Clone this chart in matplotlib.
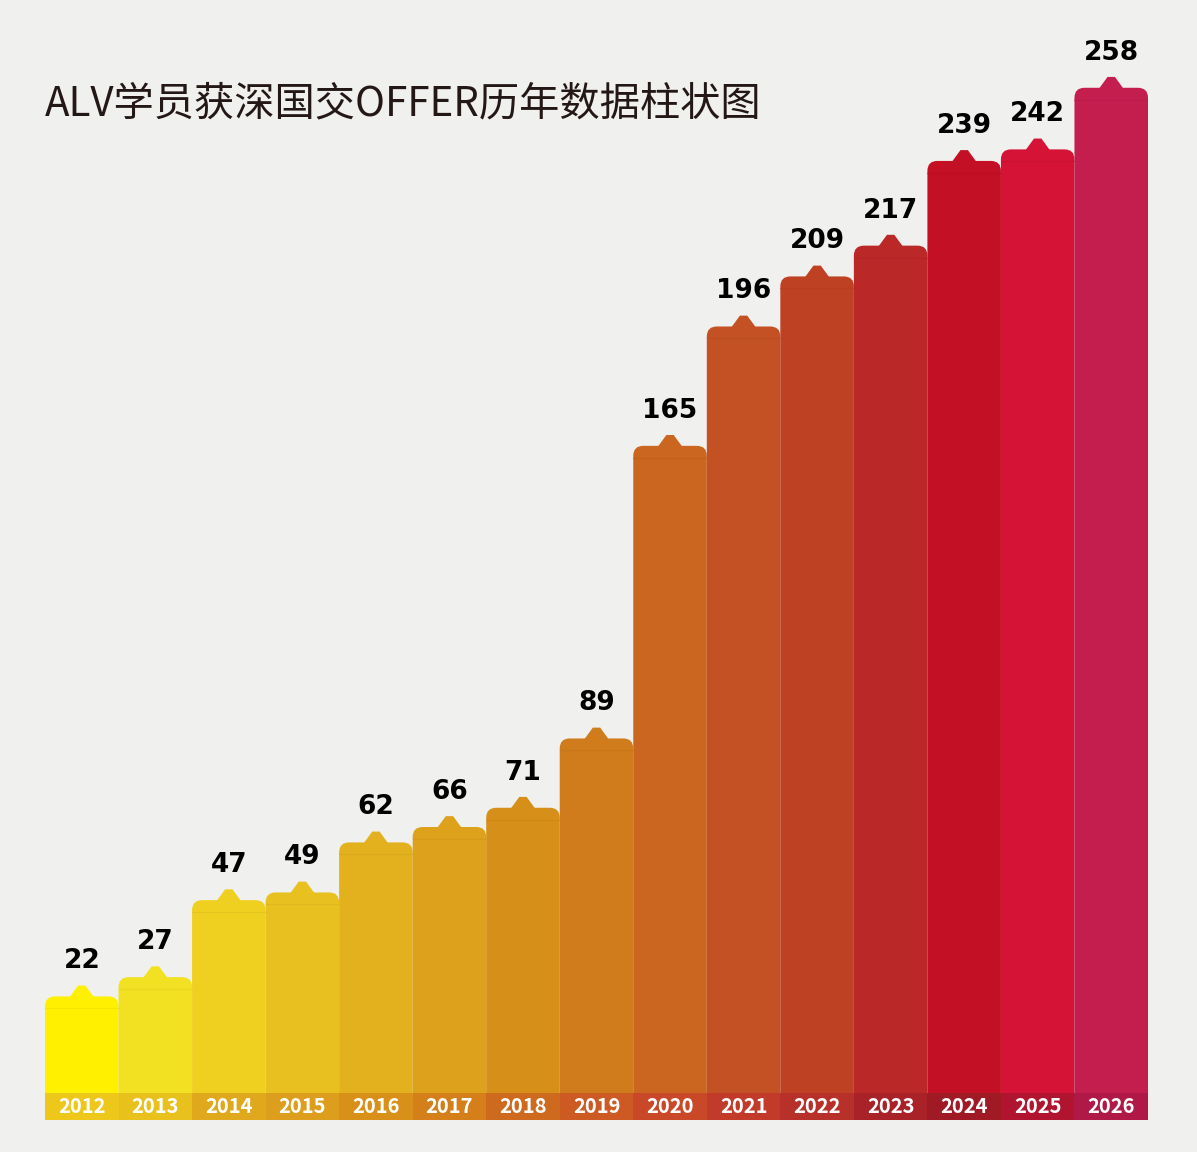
import matplotlib
matplotlib.use("Agg")
import matplotlib.pyplot as plt
from matplotlib.patches import FancyBboxPatch, Polygon, Rectangle
import matplotlib.colors as mc

years = ["2012","2013","2014","2015","2016","2017","2018","2019","2020","2021","2022","2023","2024","2025","2026"]
values = [22,27,47,49,62,66,71,89,165,196,209,217,239,242,258]
colors = ["#FFF000","#F2E122","#EFD020","#E8C020","#E3B11E","#DDA11C","#D6901A","#D07C1C","#CA661F",
          "#C45124","#BF4124","#BB2828","#C41024","#D41336","#C41E4E"]
strip_colors = ["#EDC81A","#E9C11C","#E0A81C","#DC9E1C","#D89018","#D47F1A","#CE6A1E","#CC5A22","#C84828",
                "#C23A2A","#B8302A","#A82228","#A01A26","#B0142E","#B01848"]

BG = "#F0F0EE"
fig = plt.figure(figsize=(11.97, 11.52), dpi=100, facecolor=BG)
ax = fig.add_axes([45/1197, 32/1152, 1103/1197, 1120/1152])
ax.set_facecolor(BG)
n = len(values)
ax.set_xlim(0, n)
ax.set_ylim(-10.1, 280.8)
ax.axis("off")

px_x = 1103/n       # pixels per x unit
px_y = 1120/290.9   # pixels per y unit
r_px = 10
for i, (v, c) in enumerate(zip(values, colors)):
    box = FancyBboxPatch((i, -8), 1, v + 8,
                         boxstyle=f"round,pad=0,rounding_size={r_px/px_x}",
                         mutation_aspect=(r_px/px_y)/(r_px/px_x),
                         fc=c, ec="none", zorder=2)
    ax.add_patch(box)
    tw, th = 13/px_x, 12/px_y
    ax.add_patch(Polygon([(i+0.5-tw, v-0.5), (i+0.5-0.05, v+th-0.3), (i+0.5+0.05, v+th-0.3),
                          (i+0.5+tw, v-0.5)], closed=True, fc=c, ec="none", zorder=2))
    ax.plot([i, i+1], [v-12/px_y]*2, color=mc.to_hex([x*0.93 for x in mc.to_rgb(c)]),
            lw=0.8, alpha=0.6, zorder=3)
    ax.text(i+0.5, v + 22/px_y, str(v), ha="center", va="bottom", fontsize=19,
            fontweight="black", family="DejaVu Sans", color="black", zorder=4)
    ax.add_patch(Rectangle((i, -10.1), 1, 7.0, fc=strip_colors[i], ec="none", zorder=3))
    ax.text(i+0.5, -6.6, years[i], ha="center", va="center", fontsize=14.5,
            fontweight="bold", family=["Noto Sans CJK SC", "DejaVu Sans"], color="white", zorder=4)

fig.text(45/1197, 1-104/1152, "ALV学员获深国交OFFER历年数据柱状图", ha="left", va="center",
         fontsize=29, fontweight="medium", family=["Noto Sans CJK SC", "DejaVu Sans"], color="#231815")

fig.savefig("out.png", dpi=100, facecolor=BG)
